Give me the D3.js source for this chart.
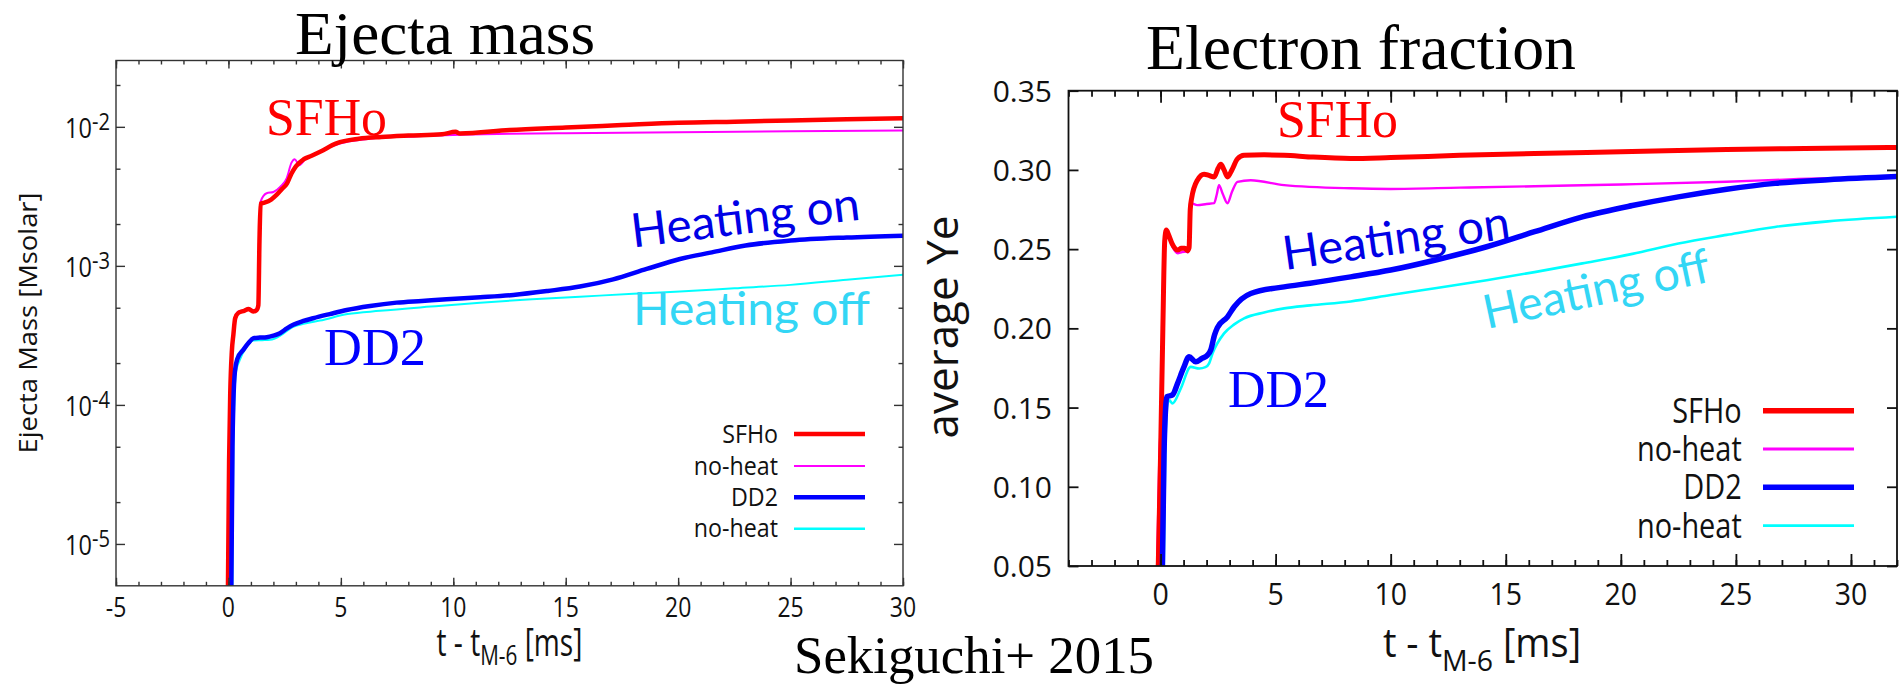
<!DOCTYPE html>
<html>
<head>
<meta charset="utf-8">
<script src="https://cdn.jsdelivr.net/npm/d3@7"></script>
<style>
  html, body { margin: 0; padding: 0; background: #fff; }
  svg { display: block; }
  .sans { font-family: "Open Sans", "DejaVu Sans", sans-serif; }
  .serif { font-family: "Liberation Serif", "DejaVu Serif", serif; }
  .callout { font-family: Lato, "Open Sans", sans-serif; }
</style>
</head>
<body>
<svg id="chart" width="1903" height="687"></svg>
<script>
// ---- data: [t - t_M-6 (ms), value] ----

// ejecta mass [Msolar]
const massSFHo = [[-0.02, 5e-6], [0.03, 4e-5], [0.08, 1.2e-4], [0.15, 2.4e-4], [0.22, 3.2e-4], [0.3, 4.2e-4],
  [0.45, 4.6e-4], [0.7, 4.75e-4], [0.9, 4.9e-4], [1.1, 4.7e-4], [1.25, 4.8e-4], [1.33, 5.2e-4], [1.38, 1.5e-3],
  [1.43, 2.8e-3], [1.6, 2.85e-3], [1.9, 3.0e-3], [2.15, 3.25e-3], [2.4, 3.6e-3], [2.6, 3.9e-3], [2.8, 4.6e-3],
  [3.0, 5.2e-3], [3.35, 5.85e-3], [3.7, 6.2e-3], [4.1, 6.65e-3], [4.8, 7.6e-3], [5.8, 8.2e-3], [6.8, 8.45e-3],
  [8, 8.65e-3], [9.5, 8.85e-3], [10.1, 9.2e-3], [10.3, 8.95e-3], [12.5, 9.5e-3], [15, 9.9e-3], [17.5, 1.03e-2],
  [20, 1.07e-2], [22.5, 1.09e-2], [25, 1.11e-2], [27.5, 1.135e-2], [30, 1.155e-2]];
const massSFHoNoHeat = [[-0.02, 5e-6], [0.03, 4e-5], [0.08, 1.2e-4], [0.15, 2.5e-4], [0.22, 3.3e-4], [0.3, 4.3e-4],
  [0.45, 4.7e-4], [0.7, 4.8e-4], [0.9, 4.95e-4], [1.1, 4.8e-4], [1.25, 4.9e-4], [1.33, 5.3e-4], [1.38, 1.6e-3],
  [1.43, 2.9e-3], [1.7, 3.33e-3], [2.0, 3.4e-3], [2.3, 3.7e-3], [2.6, 4.3e-3], [2.8, 5.5e-3], [2.95, 5.85e-3],
  [3.15, 5.3e-3], [3.4, 5.8e-3], [3.8, 6.3e-3], [4.3, 6.9e-3], [5, 7.6e-3], [6, 8.1e-3], [7, 8.4e-3], [8, 8.5e-3],
  [10, 8.75e-3], [12.5, 8.9e-3], [15, 9.0e-3], [20, 9.15e-3], [25, 9.3e-3], [30, 9.42e-3]];
const massDD2 = [[0.13, 5e-6], [0.18, 5e-5], [0.22, 1.05e-4], [0.29, 1.75e-4], [0.4, 2.15e-4], [0.66, 2.49e-4],
  [0.9, 2.8e-4], [1.11, 3.02e-4], [1.4, 3.05e-4], [1.7, 3.07e-4], [2.0, 3.15e-4], [2.29, 3.28e-4], [2.6, 3.55e-4],
  [2.88, 3.77e-4], [3.3, 4.0e-4], [3.77, 4.2e-4], [4.5, 4.5e-4], [5.26, 4.82e-4], [6.3, 5.15e-4], [7.48, 5.44e-4],
  [8.6, 5.6e-4], [9.7, 5.76e-4], [11.2, 5.95e-4], [12.67, 6.18e-4], [14.2, 6.6e-4], [15.63, 7.1e-4], [17.11, 8.0e-4],
  [18.6, 9.5e-4], [20.08, 1.12e-3], [21.5, 1.25e-3], [23, 1.4e-3], [25, 1.52e-3], [27.5, 1.6e-3], [30, 1.65e-3]];
const massDD2NoHeat = [[0.18, 5e-6], [0.22, 5e-5], [0.26, 1.0e-4], [0.33, 1.7e-4], [0.5, 2.1e-4], [0.8, 2.6e-4],
  [1.11, 2.9e-4], [1.5, 2.92e-4], [1.85, 2.94e-4], [2.29, 3.14e-4], [2.6, 3.4e-4], [2.88, 3.64e-4], [3.4, 3.85e-4],
  [4.07, 4.04e-4], [5.3, 4.5e-4], [6.74, 4.75e-4], [9, 5.1e-4], [11.19, 5.44e-4], [13.5, 5.75e-4], [15.63, 6.0e-4],
  [18, 6.3e-4], [20.08, 6.53e-4], [22.5, 6.9e-4], [25, 7.3e-4], [27.5, 7.95e-4], [30, 8.65e-4]];

// average Ye
const yeSFHo = [[-0.1, 0.05], [0.0, 0.12], [0.1, 0.2], [0.18, 0.255], [0.25, 0.262], [0.35, 0.259], [0.5, 0.2535],
  [0.75, 0.2494], [0.9, 0.2505], [1.05, 0.2505], [1.17, 0.249], [1.24, 0.251], [1.29, 0.275], [1.35, 0.282],
  [1.6, 0.2935], [1.89, 0.2973], [2.1, 0.2965], [2.33, 0.2955], [2.5, 0.301], [2.62, 0.3036], [2.76, 0.300],
  [2.91, 0.2956], [3.1, 0.300], [3.34, 0.307], [3.63, 0.3093], [4.5, 0.3095], [5.37, 0.3093], [6.5, 0.3082],
  [8.26, 0.3072], [10, 0.3078], [13, 0.3092], [16.25, 0.3104], [20, 0.3114], [24.6, 0.3129], [28, 0.3135], [32, 0.3142]];
const yeSFHoNoHeat = [[-0.15, 0.05], [-0.05, 0.12], [0.05, 0.15], [0.12, 0.2], [0.2, 0.258], [0.3, 0.26], [0.5, 0.252],
  [0.75, 0.2474], [0.9, 0.248], [1.1, 0.2485], [1.2, 0.248], [1.26, 0.27], [1.31, 0.279], [1.6, 0.2778], [2.0, 0.2785],
  [2.33, 0.279], [2.45, 0.285], [2.54, 0.2904], [2.7, 0.285], [2.91, 0.279], [3.1, 0.286], [3.34, 0.2925],
  [3.92, 0.2935], [5.37, 0.2904], [8.26, 0.2884], [10, 0.288], [13, 0.2888], [16.25, 0.2897], [20, 0.2908],
  [24.6, 0.2925], [27.3, 0.294], [32, 0.2955]];
const yeDD2 = [[0.08, 0.05], [0.15, 0.12], [0.22, 0.15], [0.27, 0.1568], [0.52, 0.158], [0.74, 0.1653], [1.0, 0.175],
  [1.24, 0.182], [1.53, 0.1789], [1.8, 0.181], [2.04, 0.1831], [2.18, 0.1863], [2.35, 0.196], [2.47, 0.2005],
  [2.91, 0.2073], [3.2, 0.2136], [3.92, 0.222], [5.37, 0.2262], [6.5, 0.2285], [8.26, 0.2325], [10, 0.2368],
  [12, 0.2433], [14.17, 0.2515], [16.25, 0.261], [18.33, 0.2704], [20.5, 0.2775], [22.5, 0.283], [24.6, 0.2878],
  [26.7, 0.2915], [29, 0.2938], [32, 0.2958]];
const yeDD2NoHeat = [[0.14, 0.05], [0.2, 0.12], [0.3, 0.152], [0.37, 0.1547], [0.52, 0.1526], [0.88, 0.1621],
  [1.31, 0.1757], [1.68, 0.1747], [1.95, 0.1755], [2.11, 0.1779], [2.26, 0.1842], [2.76, 0.1968], [3.2, 0.2025],
  [3.63, 0.2063], [4.5, 0.21], [5.37, 0.2126], [6.5, 0.2145], [8.26, 0.217], [10, 0.221], [12, 0.2255],
  [14.17, 0.2304], [16.25, 0.2355], [18.33, 0.241], [20.5, 0.247], [22.5, 0.2536], [24.6, 0.259], [26.7, 0.264],
  [29, 0.2675], [32, 0.2704]];

// ticks and labels
const massTimeTicks = [-5, 0, 5, 10, 15, 20, 25, 30];
const massTimeMinor = d3.range(-5, 31, 1);
const massTicks = [1e-5, 1e-4, 1e-3, 1e-2];
const massTickExps = ['-5', '-4', '-3', '-2'];
const massMinor = [2e-5, 5e-5, 2e-4, 5e-4, 2e-3, 5e-3, 2e-2];
const yeTimeTicks = [0, 5, 10, 15, 20, 25, 30];
const yeTimeMinor = d3.range(-4, 33, 1);
const yeTicks = [0.05, 0.10, 0.15, 0.20, 0.25, 0.30, 0.35];
const legendNames = ['SFHo', 'no-heat', 'DD2', 'no-heat'];

const svg = d3.select('#chart');
svg.append('rect').attr('width', 1903).attr('height', 687).attr('fill', '#fff');

// text helper, sx squeezes glyphs horizontally like the original figure
function txt(parent, x, y, s, size, o = {}) {
  let tr = `translate(${x},${y})`;
  if (o.rotate) tr += ` rotate(${o.rotate})`;
  if (o.sx) tr += ` scale(${o.sx},1)`;
  const t = parent.append('text')
    .attr('transform', tr)
    .attr('class', o.cls || 'sans')
    .attr('font-size', size)
    .attr('text-anchor', o.anchor || 'start')
    .attr('fill', o.fill || '#111')
    .text(s);
  if (o.len) t.attr('textLength', o.len).attr('lengthAdjust', 'spacingAndGlyphs');
  return t;
}

// gnuplot style box with inward ticks on all four sides
function frame(x, y, t, stroke, sw) {
  const [x0, x1] = x.range();
  const [y0, y1] = y.range();
  const g = svg.append('g');
  const add = (axis, tx, ty) => {
    const a = g.append('g').attr('transform', `translate(${tx},${ty})`).call(axis);
    a.select('.domain').remove();
    a.selectAll('text').remove();
    a.selectAll('line').attr('stroke', stroke).attr('stroke-width', sw);
  };
  add(d3.axisBottom(x).tickValues(t.xMajor).tickSize(-t.xLen), 0, y0);
  add(d3.axisTop(x).tickValues(t.xMajor).tickSize(-t.xLen), 0, y1);
  add(d3.axisBottom(x).tickValues(t.xMinor).tickSize(-t.xLen / 2), 0, y0);
  add(d3.axisTop(x).tickValues(t.xMinor).tickSize(-t.xLen / 2), 0, y1);
  add(d3.axisLeft(y).tickValues(t.yMajor).tickSize(-t.yLen), x0, 0);
  add(d3.axisRight(y).tickValues(t.yMajor).tickSize(-t.yLen), x1, 0);
  if (t.yMinor) {
    add(d3.axisLeft(y).tickValues(t.yMinor).tickSize(-t.yLen / 2), x0, 0);
    add(d3.axisRight(y).tickValues(t.yMinor).tickSize(-t.yLen / 2), x1, 0);
  }
  g.append('rect')
    .attr('x', x0).attr('y', y1).attr('width', x1 - x0).attr('height', y0 - y1)
    .attr('fill', 'none').attr('stroke', stroke).attr('stroke-width', sw);
  return g;
}

function curves(id, x, y, series) {
  const [x0, x1] = x.range();
  const [y0, y1] = y.range();
  svg.append('clipPath').attr('id', id).append('rect')
    .attr('x', x0).attr('y', y1).attr('width', x1 - x0).attr('height', y0 - y1);
  const line = d3.line().x(d => x(d[0])).y(d => y(d[1])).curve(d3.curveMonotoneX);
  const g = svg.append('g').attr('clip-path', `url(#${id})`);
  series.forEach(s => {
    g.append('path').datum(s.data).attr('d', line)
      .attr('fill', 'none').attr('stroke', s.color).attr('stroke-width', s.width)
      .attr('stroke-linejoin', 'round').attr('stroke-linecap', 'round');
  });
}

function legend(names, colors, widths, right, x1, x2, rows, size, sx) {
  names.forEach((n, i) => {
    txt(svg, right, rows[i] + size * 0.35, n, size, { anchor: 'end', sx: sx });
    svg.append('line').attr('x1', x1).attr('x2', x2).attr('y1', rows[i]).attr('y2', rows[i])
      .attr('stroke', colors[i]).attr('stroke-width', widths[i]);
  });
}

const RED = '#ff0000', MAG = '#ff00ff', BLUE = '#0000ff', CYAN = '#00ffff';

// ================= left: ejecta mass =================
const xL = d3.scaleLinear().domain([-5, 30]).range([116, 903]);
const yL = d3.scaleLog().domain([5e-6, 3e-2]).range([585.8, 60.5]);

curves('clipL', xL, yL, [
  { data: massSFHoNoHeat, color: MAG, width: 2 },
  { data: massDD2NoHeat, color: CYAN, width: 2 },
  { data: massSFHo, color: RED, width: 4.5 },
  { data: massDD2, color: BLUE, width: 4.5 }
]);
frame(xL, yL, { xMajor: massTimeTicks, xMinor: massTimeMinor, xLen: 8,
  yMajor: massTicks, yMinor: massMinor, yLen: 9 }, '#333', 1.4);

massTicks.forEach((v, i) => {
  const t = txt(svg, 110, yL(v) + 11, '', 28, { anchor: 'end', sx: 0.84 });
  t.append('tspan').text('10');
  t.append('tspan').attr('dy', -8).attr('font-size', 24).text(massTickExps[i]);
});
massTimeTicks.forEach(v => txt(svg, xL(v), 617, String(v), 28, { anchor: 'middle', sx: 0.82 }));

const tL = txt(svg, 509.5, 656, 't - t', 38, { anchor: 'middle', sx: 0.74 });
tL.append('tspan').attr('dy', 9).attr('font-size', 28).text('M-6');
tL.append('tspan').attr('dy', -9).text(' [ms]');
txt(svg, 28, 323, 'Ejecta Mass [Msolar]', 26, { anchor: 'middle', rotate: -90, len: 261 }).attr('dy', '0.33em');

legend(legendNames, [RED, MAG, BLUE, CYAN], [4.5, 2, 4.5, 2.5], 778, 794, 865,
  [434, 466, 497.3, 528.7], 25, 0.93);

txt(svg, 295, 54, 'Ejecta mass', 61, { cls: 'serif', fill: '#000', len: 300 });
txt(svg, 266, 135, 'SFHo', 53, { cls: 'serif', fill: RED, len: 121 });
txt(svg, 324, 365, 'DD2', 53, { cls: 'serif', fill: BLUE, len: 102 });
txt(svg, 633, 247.6, 'Heating on', 47, { cls: 'callout', fill: '#0000e6', rotate: -7, len: 230 });
txt(svg, 633, 325, 'Heating off', 47, { cls: 'callout', fill: '#33d6f5', len: 237 });

// ================= right: electron fraction =================
const xR = d3.scaleLinear().domain([-4, 32]).range([1068.5, 1897]);
const yR = d3.scaleLinear().domain([0.05, 0.35]).range([566, 90.7]);

curves('clipR', xR, yR, [
  { data: yeSFHoNoHeat, color: MAG, width: 2.4 },
  { data: yeDD2NoHeat, color: CYAN, width: 2.6 },
  { data: yeSFHo, color: RED, width: 5 },
  { data: yeDD2, color: BLUE, width: 5.5 }
]);
frame(xR, yR, { xMajor: yeTimeTicks, xMinor: yeTimeMinor, xLen: 12,
  yMajor: yeTicks, yLen: 10 }, '#111', 1.8);

yeTicks.forEach(v => txt(svg, 1052, yR(v) + 11, d3.format('.2f')(v), 30, { anchor: 'end' }));
yeTimeTicks.forEach(v => txt(svg, xR(v), 605, String(v), 31, { anchor: 'middle', sx: 0.92 }));

const tR = txt(svg, 1482, 657, 't - t', 40, { anchor: 'middle', sx: 0.95 });
tR.append('tspan').attr('dy', 14).attr('font-size', 30).text('M-6');
tR.append('tspan').attr('dy', -14).text(' [ms]');
txt(svg, 958, 327, 'average Ye', 44, { anchor: 'middle', rotate: -90, len: 223 });

legend(legendNames, [RED, MAG, BLUE, CYAN], [5.5, 2.8, 5.5, 2.8], 1741.7, 1763, 1854,
  [410.7, 449, 487.3, 525.7], 34, 0.85);

txt(svg, 1146, 69, 'Electron fraction', 63, { cls: 'serif', fill: '#000', len: 430 });
txt(svg, 1277, 137, 'SFHo', 52, { cls: 'serif', fill: RED, len: 121 });
txt(svg, 1228, 407, 'DD2', 52, { cls: 'serif', fill: BLUE, len: 101 });
txt(svg, 1285, 270, 'Heating on', 47, { cls: 'callout', fill: '#0000e6', rotate: -8, len: 229 });
txt(svg, 1487, 329, 'Heating off', 47, { cls: 'callout', fill: '#33d6f5', rotate: -12, len: 230 });

txt(svg, 794, 673, 'Sekiguchi+ 2015', 52, { cls: 'serif', fill: '#000', len: 360 });
</script>
</body>
</html>
